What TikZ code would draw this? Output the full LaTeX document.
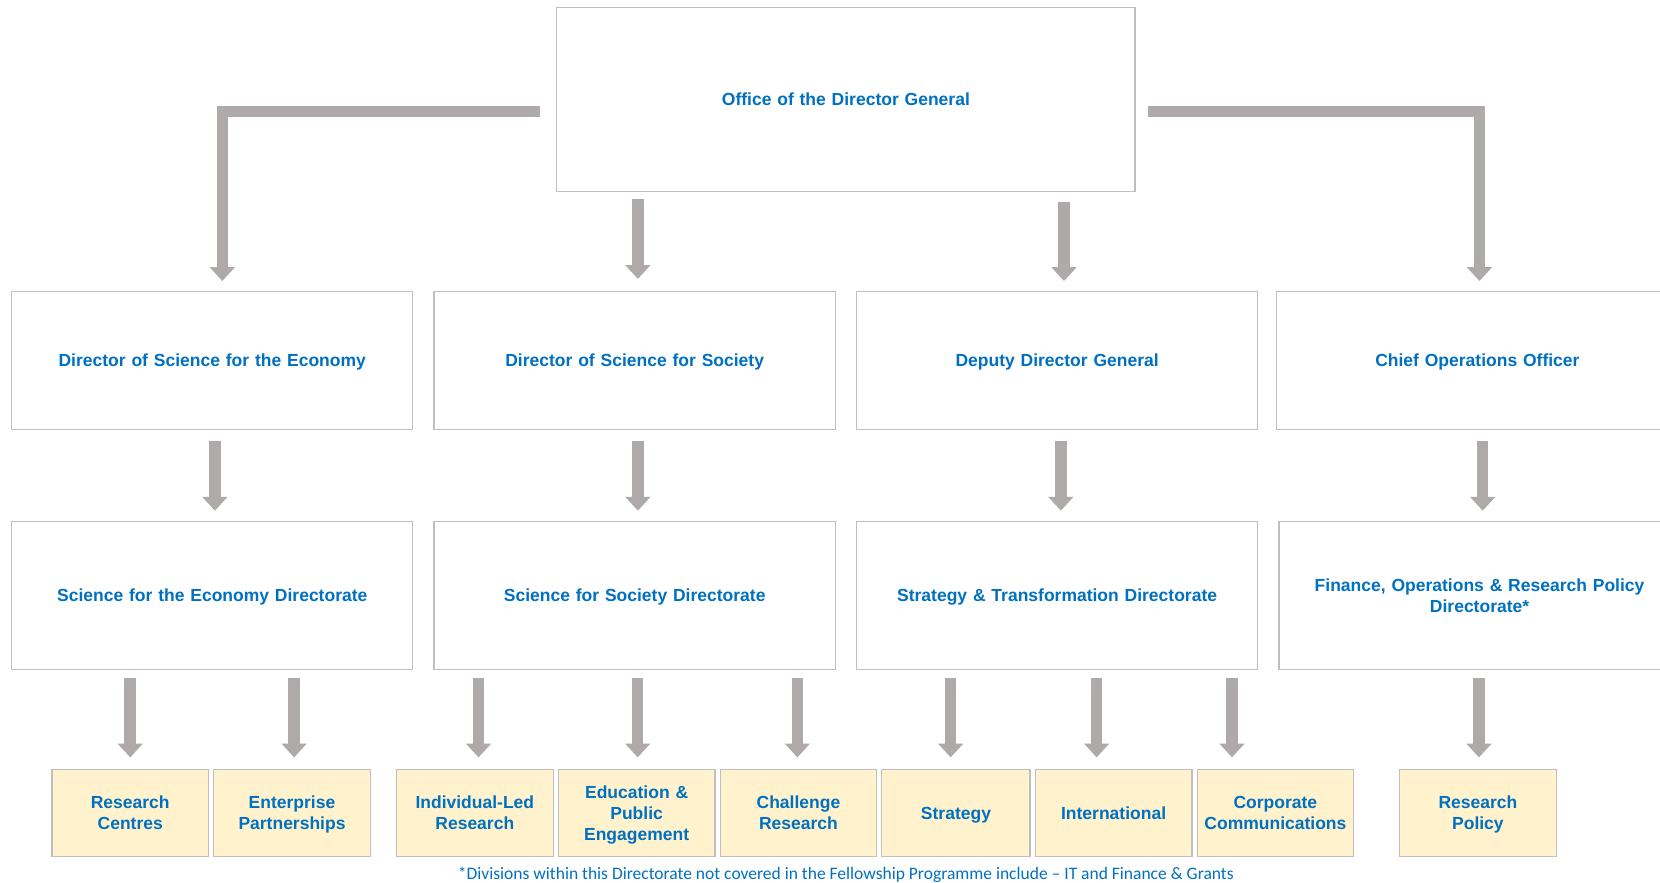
\documentclass[tikz,border=0pt]{standalone}
\usepackage{fontspec}
\setmainfont{Liberation Sans}
\newfontfamily\notefont{Carlito}
\usepackage{xcolor}
\definecolor{textBlue}{HTML}{0070C0}
\definecolor{arrowGrey}{HTML}{AEAAAA}
\definecolor{boxLine}{HTML}{BFBFBF}
\definecolor{unitFill}{HTML}{FFF2CC}
\usepackage{tikz}
\usetikzlibrary{positioning,calc,arrows.meta}
\newcommand{\boxStrut}{\rule[-2.2pt]{0pt}{10.6pt}}
\tikzset{%
  headBox/.style={%
    rectangle,
    draw=boxLine,
    line width=0.6pt,
    fill=white,
    text=textBlue,
    inner sep=0pt,
    minimum width=200.6pt,
    minimum height=69.3pt,
    text width=195pt,
    align=center,
    execute at begin node=\boxStrut,
    execute at end node=\boxStrut,
    font=\fontsize{8.75}{10.6}\selectfont\bfseries
  },
  unitBox/.style={%
    rectangle,
    draw=boxLine,
    line width=0.6pt,
    fill=unitFill,
    text=textBlue,
    inner sep=0pt,
    minimum width=78.3pt,
    minimum height=43.4pt,
    text width=76pt,
    align=center,
    execute at begin node=\boxStrut,
    execute at end node=\boxStrut,
    font=\fontsize{8.75}{10.6}\selectfont\bfseries
  },
  arrowLine/.style={%
    -{Triangle[length=6.9pt,width=12.2pt]},
    line width=5.8pt,
    draw=arrowGrey
  }
}

\begin{document}
\begin{tikzpicture}[x=0.5293pt,y=-0.5293pt,node distance=2pt]
    \useasboundingbox (0,0) rectangle (1568,834);

    % Top office
    \node[headBox, minimum width=289pt, minimum height=92.1pt] (office) at (799,94) {Office of the Director General};

    % Directors
    \node[headBox] (dir1) at (200.5,340.5) {Director of Science for the Economy};
    \node[headBox, right=10pt of dir1] (dir2) {Director of Science for Society};
    \node[headBox, right=10pt of dir2] (dir3) {Deputy Director General};
    \node[headBox, right=8.9pt of dir3] (dir4) {Chief Operations Officer};

    % Directorates
    \node[headBox, minimum height=73.6pt] (dirc1) at (200.5,562.5) {Science for the Economy Directorate};
    \node[headBox, minimum height=73.6pt, right=10pt of dirc1] (dirc2) {Science for Society Directorate};
    \node[headBox, minimum height=73.6pt, right=10pt of dirc2] (dirc3) {Strategy \& Transformation Directorate};
    \node[headBox, minimum height=73.6pt, right=10pt of dirc3] (dirc4) {Finance, Operations \& Research Policy\\Directorate*};

    % Divisions
    \node[unitBox] (div1a) at (123,768) {Research\\Centres};
    \node[unitBox, right=of div1a] (div1b) {Enterprise\\Partnerships};

    \node[unitBox] (div2a) at (448.5,768) {Individual-Led\\Research};
    \node[unitBox, right=of div2a] (div2b) {Education \&\\Public\\Engagement};
    \node[unitBox, right=of div2b] (div2c) {Challenge\\Research};

    \node[unitBox, minimum width=74.1pt, text width=72pt] (div3a) at (903,768) {Strategy};
    \node[unitBox, right=of div3a] (div3b) {International};
    \node[unitBox, right=of div3b] (div3c) {Corporate\\Communications};

    \node[unitBox] (div4a) at (1396,768) {Research\\Policy};

    % Office to directors
    \draw[arrowLine] ($(office.west)+(-15,11.5)$) -| ($(dir1.north)+(9.5,-9)$);
    \draw[arrowLine] ($(office.east)+(12,11.5)$) -| ($(dir4.north)+(2,-9)$);
    \draw[arrowLine] ($(office.south -| dir2.north)+(3,6)$) -- ($(dir2.north)+(3,-11)$);
    \draw[arrowLine] ($(office.south -| dir3.north)+(6.5,9)$) -- ($(dir3.north)+(6.5,-9)$);

    % Directors to directorates
    \foreach \src/\dst/\dx in {dir1/dirc1/2.5, dir2/dirc2/3, dir3/dirc3/3.5, dir4/dirc4/5}
        \draw[arrowLine] ($(\src.south)+(\dx,10)$) -- ($(\src.south |- \dst.north)+(\dx,-10)$);

    % Directorates to divisions
    \foreach \src/\dst/\dx in {dirc1/div1a/0, dirc1/div1b/2, dirc2/div2a/3.5, dirc2/div2b/1,
                              dirc2/div2c/-1, dirc3/div3a/-5, dirc3/div3b/-16, dirc3/div3c/-41,
                              dirc4/div4a/1}
        \draw[arrowLine] ($(\src.south -| \dst.north)+(\dx,8)$) -- ($(\dst.north)+(\dx,-11)$);

    % Footnote
    \node[text=textBlue, font=\notefont\fontsize{8.75}{10}\selectfont] (note) at (799,826)
        {*Divisions within this Directorate not covered in the Fellowship Programme include – IT and Finance \& Grants};
\end{tikzpicture}
\end{document}
